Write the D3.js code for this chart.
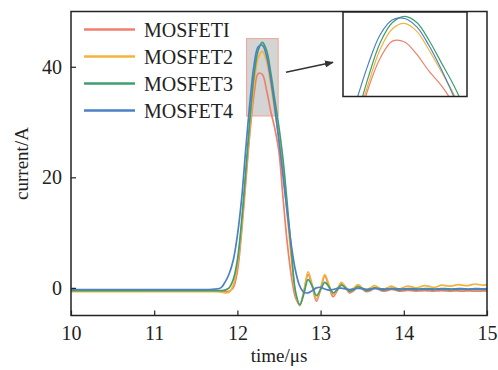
<!DOCTYPE html>
<html><head><meta charset="utf-8">
<script src="https://cdn.jsdelivr.net/npm/d3@7/dist/d3.min.js"></script>
<style>body{margin:0;background:#fff}svg{display:block}text{font-family:"Liberation Serif","Times New Roman",serif}</style>
</head><body><svg id="c" width="498" height="370"></svg>
<script>
const time = [10.0,10.5,11.0,11.5,11.7,11.8,11.85,11.9,11.95,12.0,12.05,12.1,12.15,12.2,12.25,12.3,12.35,12.4,12.45,12.5,12.55,12.6,12.65,12.7,12.75,12.8,12.85,12.9,12.95,13.0,13.05,13.1,13.15,13.2,13.25,13.3,13.35,13.4,13.45,13.5,13.55,13.6,13.65,13.7,13.75,13.8,13.85,13.9,13.95,14.0,14.05,14.1,14.15,14.2,14.25,14.3,14.35,14.4,14.45,14.5,14.55,14.6,14.65,14.7,14.75,14.8,14.85,14.9,14.95,15.0];
const mosfet1 = [-0.6,-0.6,-0.6,-0.6,-0.6,-0.6,-0.6,-0.6,0.0,3.0,10,19,28,35,38.8,38.6,35.8,32.0,28.8,24.5,16,8,2,-1.8,-3.0,-0.6,2.4,0.2,-2.4,-0.3,2.1,0.2,-1.6,-0.5,0.8,0.0,-0.9,-0.5,0.4,-0.2,-0.7,-0.5,0.0,-0.3,-0.6,-0.5,-0.3,-0.4,-0.6,-0.55,-0.45,-0.5,-0.6,-0.55,-0.5,-0.55,-0.6,-0.55,-0.5,-0.55,-0.6,-0.55,-0.55,-0.6,-0.55,-0.55,-0.6,-0.6,-0.55,-0.6];
const mosfet2 = [-0.7,-0.7,-0.7,-0.7,-0.7,-0.75,-0.9,-0.8,0.5,4,11,20,29,37,41.6,42.8,41.0,36.8,32,27,21,13,5,-1.2,-3.2,-0.5,2.9,0.5,-2.0,0.0,2.4,0.6,-1.2,-0.2,1.0,0.2,-0.6,0.0,0.6,0.0,-0.4,0.0,0.4,0.0,-0.3,0.0,0.3,0.0,-0.2,0.1,0.3,0.2,0.0,0.2,0.4,0.3,0.1,0.2,0.5,0.4,0.3,0.4,0.6,0.5,0.4,0.5,0.7,0.6,0.5,0.6];
const mosfet3 = [-0.5,-0.5,-0.5,-0.5,-0.5,-0.5,-0.4,0.0,1.5,5,12,21,30.5,38.5,43.0,44.4,43.0,39,34,29,23,15,6.5,-0.8,-3.1,-1.0,1.5,0.3,-1.4,-0.3,1.0,0.2,-0.9,-0.3,0.5,0.0,-0.6,-0.3,0.2,-0.1,-0.5,-0.3,0.0,-0.2,-0.4,-0.3,-0.1,-0.3,-0.4,-0.3,-0.25,-0.3,-0.35,-0.3,-0.3,-0.3,-0.35,-0.3,-0.3,-0.3,-0.35,-0.3,-0.3,-0.3,-0.3,-0.3,-0.3,-0.3,-0.3,-0.3];
const mosfet4 = [-0.3,-0.3,-0.3,-0.3,-0.25,0.0,1.0,2.5,5.0,9.5,16,25,33.5,40.3,43.6,43.9,42.0,37.8,32.5,26.5,20,13.5,7.5,3.0,0.3,-0.8,-0.9,-0.5,0.0,0.1,-0.2,-0.4,-0.3,-0.1,-0.05,-0.2,-0.3,-0.2,-0.1,-0.15,-0.25,-0.2,-0.15,-0.15,-0.2,-0.2,-0.15,-0.15,-0.2,-0.2,-0.15,-0.15,-0.2,-0.2,-0.15,-0.15,-0.2,-0.2,-0.15,-0.15,-0.2,-0.2,-0.15,-0.15,-0.2,-0.2,-0.15,-0.15,-0.2,-0.15];
const seriesNames = ["MOSFETI","MOSFET2","MOSFET3","MOSFET4"];
const seriesColors = ["#ee806c","#f3b43c","#3f9f6e","#4d80c4"];
const xTicks = [10,11,12,13,14,15];
const yTicks = [0,20,40];
const xDomain = [10,15], yDomain = [-5,50];
const zoomBoxX = [12.11,12.49], zoomBoxY = [31.1,45.1];
const insetXDomain = [12.047,12.556], insetYDomain = [26.3,45.37];
const arrowFrom = [12.584,39.0], arrowTo = [13.149,40.8];
const xLabel = "time/μs", yLabel = "current/A";

const values = [mosfet1,mosfet2,mosfet3,mosfet4];
const svg = d3.select("#c");
const L=71,R=487,T=11.5,B=315.5;
const x = d3.scaleLinear(xDomain,[L,R]);
const y = d3.scaleLinear(yDomain,[B,T]);

const defs = svg.append("defs");
defs.append("clipPath").attr("id","pc").append("rect").attr("x",L).attr("y",T).attr("width",R-L).attr("height",B-T);
defs.append("marker").attr("id","ah").attr("viewBox","0 0 10 10").attr("refX",9).attr("refY",5)
  .attr("markerWidth",6).attr("markerHeight",6).attr("orient","auto")
  .append("path").attr("d","M0,1L10,5L0,9Z").attr("fill","#333");

// zoom box
svg.append("rect").attr("x",x(zoomBoxX[0])).attr("y",y(zoomBoxY[1]))
  .attr("width",x(zoomBoxX[1])-x(zoomBoxX[0])).attr("height",y(zoomBoxY[0])-y(zoomBoxY[1]))
  .attr("fill","#d4d4d4").attr("stroke","#f2a394").attr("stroke-width",1);

const gLines = svg.append("g").attr("clip-path","url(#pc)");
const line = d3.line().x((d,i)=>x(time[i])).y(d=>y(d)).curve(d3.curveCatmullRom.alpha(0.5));
values.forEach((v,k)=>{
  gLines.append("path").attr("d",line(v)).attr("fill","none").attr("stroke",seriesColors[k]).attr("stroke-width",1.7);
});

// axes
const ax = svg.append("g").attr("transform",`translate(0,${B})`)
  .call(d3.axisBottom(x).tickValues(xTicks).tickSize(-5).tickPadding(10).tickFormat(d3.format("d")));
const ay = svg.append("g").attr("transform",`translate(${L},0)`)
  .call(d3.axisLeft(y).tickValues(yTicks).tickSize(-5).tickPadding(9).tickFormat(d3.format("d")));
[ax,ay].forEach(g=>{g.select(".domain").remove();g.selectAll("line").attr("stroke","#222").attr("stroke-width",1.2);
  g.selectAll("text").attr("font-size",20).attr("fill","#222").attr("font-family","Liberation Serif");});
svg.append("rect").attr("x",L).attr("y",T).attr("width",R-L).attr("height",B-T).attr("fill","none").attr("stroke","#222").attr("stroke-width",1.5);

svg.append("text").attr("x",(L+R)/2).attr("y",362).attr("text-anchor","middle").attr("font-size",19).attr("fill","#222").text(xLabel);
svg.append("text").attr("transform",`translate(28,${(T+B)/2}) rotate(-90)`).attr("text-anchor","middle").attr("font-size",19).attr("fill","#222").text(yLabel);

// legend
seriesNames.forEach((n,k)=>{
  const yy = 29.5 + k*27;
  svg.append("line").attr("x1",84).attr("x2",135).attr("y1",yy).attr("y2",yy).attr("stroke",seriesColors[k]).attr("stroke-width",2.5);
  svg.append("text").attr("x",144).attr("y",yy+7).attr("font-size",20).attr("fill","#222").text(n);
});

// arrow
svg.append("line").attr("x1",x(arrowFrom[0])).attr("y1",y(arrowFrom[1])).attr("x2",x(arrowTo[0])).attr("y2",y(arrowTo[1]))
  .attr("stroke","#333").attr("stroke-width",1.5).attr("marker-end","url(#ah)");

// inset
const IL=343,IR=467,IT=12,IB=96.5;
const xi = d3.scaleLinear(insetXDomain,[IL,IR]);
const yi = d3.scaleLinear(insetYDomain,[IB,IT]);
defs.append("clipPath").attr("id","ic").append("rect").attr("x",IL).attr("y",IT).attr("width",IR-IL).attr("height",IB-IT);
svg.append("rect").attr("x",IL).attr("y",IT).attr("width",IR-IL).attr("height",IB-IT).attr("fill","#fff");
const gi = svg.append("g").attr("clip-path","url(#ic)");
const linei = d3.line().x((d,i)=>xi(time[i])).y(d=>yi(d)).curve(d3.curveCatmullRom.alpha(0.5));
values.forEach((v,k)=>{
  gi.append("path").attr("d",linei(v)).attr("fill","none").attr("stroke",seriesColors[k]).attr("stroke-width",1.2);
});
svg.append("rect").attr("x",IL).attr("y",IT).attr("width",IR-IL).attr("height",IB-IT).attr("fill","none").attr("stroke","#222").attr("stroke-width",1.5);
</script></body></html>
